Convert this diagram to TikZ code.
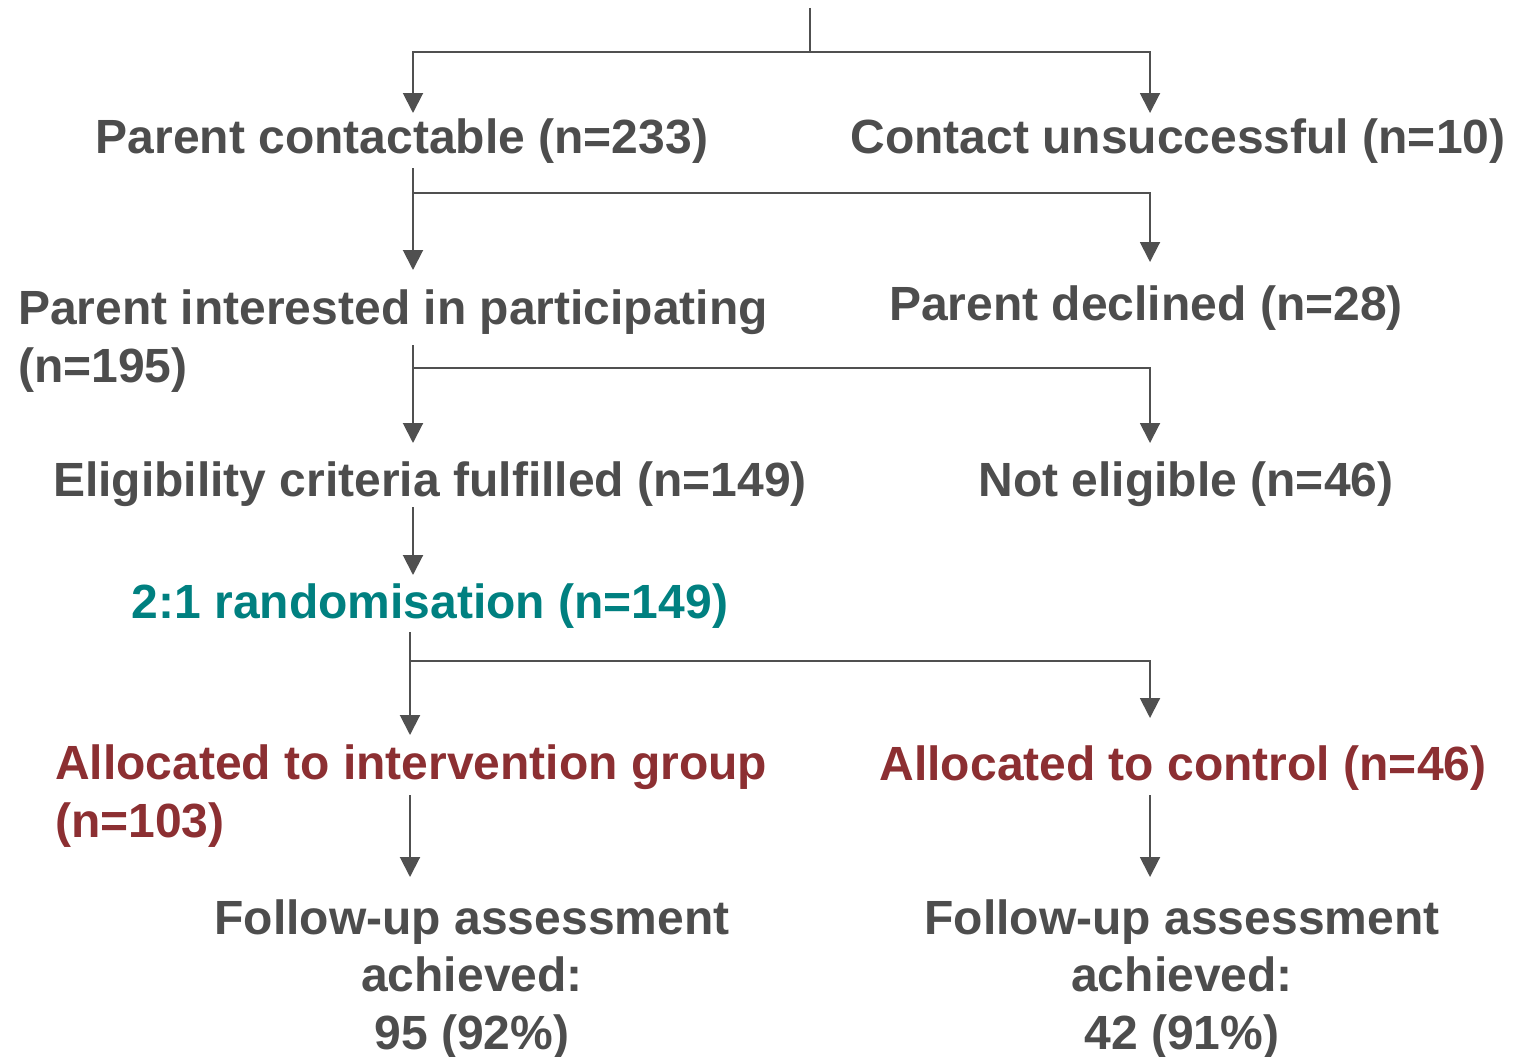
\documentclass[tikz,border=0pt]{standalone}
\usepackage{fontspec}
\setmainfont{Liberation Sans}
\usetikzlibrary{arrows.meta}
\definecolor{txtgrey}{HTML}{4D4D4D}
\definecolor{lngrey}{HTML}{505050}
\definecolor{randteal}{HTML}{008080}
\definecolor{allocred}{HTML}{8C2F32}

\begin{document}
\begin{tikzpicture}[x=0.75pt,y=-0.75pt,
  lbl/.style={inner sep=0pt,anchor=base,font=\fontsize{36}{43}\selectfont\bfseries,text=txtgrey},
  ln/.style={draw=lngrey,line width=1.5pt},
  arr/.style={ln,-{Triangle[width=15pt,length=15pt]}}]
\useasboundingbox (0,0) rectangle (1526,1056);

\node[lbl] (contact) at (402,153) {Parent contactable (n=233)};
\node[lbl] (unsucc) at (1178,153) {Contact unsuccessful (n=10)};
\node[lbl,anchor=base west,align=left] (interest) at (18,382) {Parent interested in participating\\(n=195)};
\node[lbl] (declined) at (1146,320) {Parent declined (n=28)};
\node[lbl] (eligible) at (430,496) {Eligibility criteria fulfilled (n=149)};
\node[lbl] (noteligible) at (1186,496) {Not eligible (n=46)};
\node[lbl,text=randteal] (random) at (430,618) {2:1 randomisation (n=149)};
\node[lbl,text=allocred,anchor=base west,align=left] (interv) at (55,837) {Allocated to intervention group\\(n=103)};
\node[lbl,text=allocred] (control) at (1183,780) {Allocated to control (n=46)};
\node[lbl,align=center] (followi) at (472,1049) {Follow-up assessment\\achieved:\\95 (92\%)};
\node[lbl,align=center] (followc) at (1182,1049) {Follow-up assessment\\achieved:\\42 (91\%)};

\coordinate (top) at (810,8);
\coordinate (j0) at (810,52);
\coordinate (s1) at (413,168);
\coordinate (j1) at (413,193);
\coordinate (s2) at (413,345);
\coordinate (j2) at (413,368);
\coordinate (s3) at (413,507);
\coordinate (s4) at (410,632);
\coordinate (j4) at (410,661);
\coordinate (s5) at (410,795);
\coordinate (s6) at (1150,795);

\draw[ln] (top) -- (j0);
\draw[arr] (j0) -| (413,113);
\draw[arr] (j0) -| (1150,113);
\draw[arr] (s1) -- (413,270);
\draw[arr] (j1) -| (1150,262);
\draw[arr] (s2) -- (413,443);
\draw[arr] (j2) -| (1150,443);
\draw[arr] (s3) -- (413,575);
\draw[arr] (s4) -- (410,735);
\draw[arr] (j4) -| (1150,718);
\draw[arr] (s5) -- (410,877);
\draw[arr] (s6) -- (1150,877);
\end{tikzpicture}
\end{document}
